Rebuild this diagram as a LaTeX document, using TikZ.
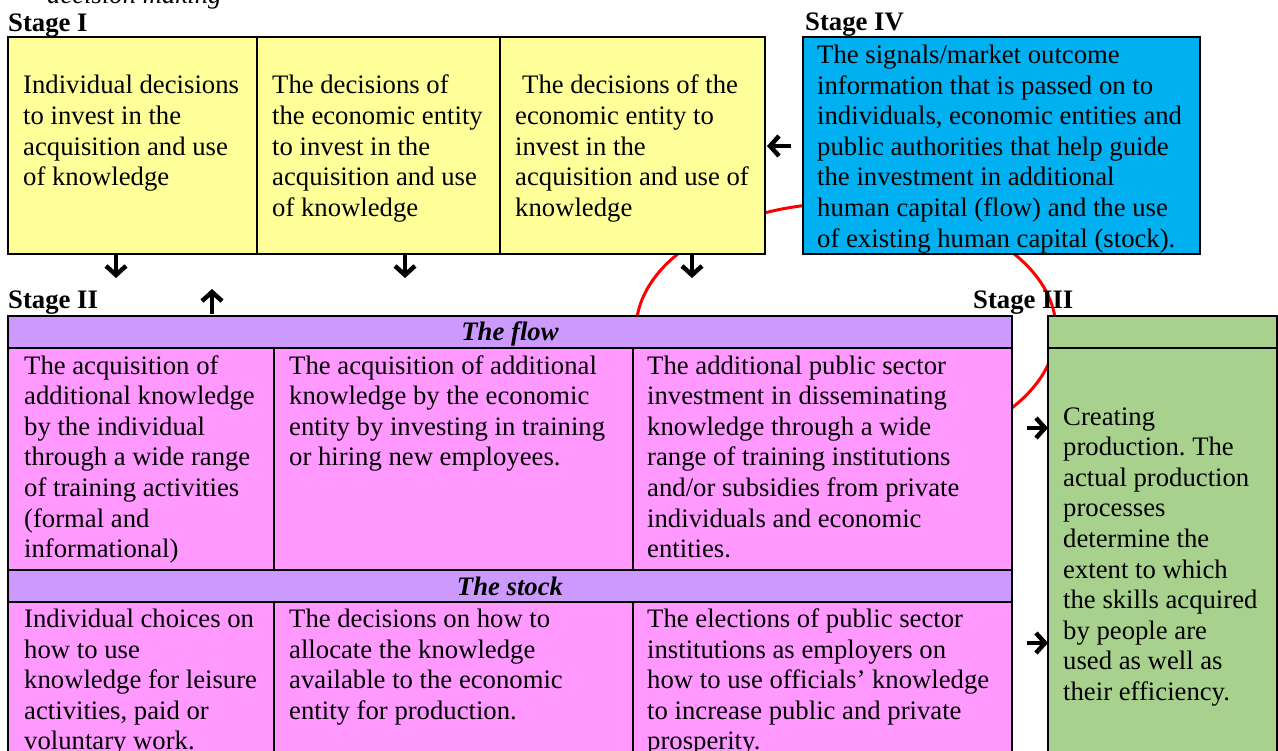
\documentclass[tikz,border=0pt]{standalone}
\usepackage{fontspec}
\setmainfont{Liberation Serif}
\usetikzlibrary{arrows.meta}
\definecolor{cyellow}{HTML}{FFFF99}
\definecolor{cblue}{HTML}{00B0F0}
\definecolor{cpurple}{HTML}{CC99FF}
\definecolor{cpink}{HTML}{FF99FF}
\definecolor{cgreen}{HTML}{A9D18E}
\newcommand{\cellfont}{\fontsize{26.7pt}{30.6pt}\selectfont\frenchspacing}
\begin{document}
\begin{tikzpicture}[x=1pt,y=-1pt,
  cellbox/.style={draw=black, line width=2pt, anchor=north west, inner sep=0pt, outer sep=0pt},
  celltext/.style={anchor=base west, inner sep=0pt, align=left, font=\cellfont},
  stagelabel/.style={anchor=base west, inner sep=0pt, font=\cellfont\bfseries},
  headtext/.style={anchor=base, inner sep=0pt, font=\cellfont\bfseries\itshape},
  arr/.style={line width=4.5pt, -{Straight Barb[length=9pt,width=20pt]}},
  loop/.style={draw=red, line width=3pt}]
\clip (0,0) rectangle (1278,751);
\fill[white] (0,0) rectangle (1278,751);
% red cycle (behind the boxes)
\draw[loop] (846,330) ellipse [x radius=210pt, y radius=127pt];
% caption fragment
\node[anchor=base west, inner sep=0pt, font=\cellfont\itshape] (cap) at (47,4) {decision making};
% Stage I
\node[stagelabel] (lab1) at (8,32) {Stage I};
\node[cellbox, fill=cyellow, minimum width=249pt, minimum height=217pt] (s1a) at (8,37) {};
\node[cellbox, fill=cyellow, minimum width=243pt, minimum height=217pt] (s1b) at (257,37) {};
\node[cellbox, fill=cyellow, minimum width=265pt, minimum height=217pt] (s1c) at (500,37) {};
\node[celltext] (t1a) at (23,185.8) {Individual decisions\\to invest in the\\acquisition and use\\of knowledge};
\node[celltext] (t1b) at (272,216.4) {The decisions of\\the economic entity\\to invest in the\\acquisition and use\\of knowledge};
\node[celltext] (t1c) at (515,216.4) {\hspace*{7pt}The decisions of the\\economic entity to\\invest in the\\acquisition and use of\\knowledge};
% Stage IV
\node[stagelabel] (lab4) at (805,31) {Stage IV};
\node[cellbox, fill=cblue, minimum width=397pt, minimum height=217pt] (s4) at (803,37) {};
\node[celltext] (t4) at (817,247.1) {The signals/market outcome\\information that is passed on to\\individuals, economic entities and\\public authorities that help guide\\the investment in additional\\human capital (flow) and the use\\of existing human capital (stock).};
% Stage II
\node[stagelabel] (lab2) at (8,309) {Stage II};
\node[cellbox, fill=cpurple, minimum width=1004pt, minimum height=32pt] (fh) at (8,316) {};
\node[headtext] (fht) at (510,341) {The flow};
\node[cellbox, fill=cpink, minimum width=266pt, minimum height=222pt] (f1) at (8,348) {};
\node[cellbox, fill=cpink, minimum width=359pt, minimum height=222pt] (f2) at (274,348) {};
\node[cellbox, fill=cpink, minimum width=379pt, minimum height=222pt] (f3) at (633,348) {};
\node[cellbox, fill=cpurple, minimum width=1004pt, minimum height=32pt] (sh) at (8,570) {};
\node[headtext] (sht) at (510,595) {The stock};
\node[cellbox, fill=cpink, minimum width=266pt, minimum height=200pt] (k1) at (8,602) {};
\node[cellbox, fill=cpink, minimum width=359pt, minimum height=200pt] (k2) at (274,602) {};
\node[cellbox, fill=cpink, minimum width=379pt, minimum height=200pt] (k3) at (633,602) {};
\node[celltext] (tf1) at (24,557.6) {The acquisition of\\additional knowledge\\by the individual\\through a wide range\\of training activities\\(formal and\\informational)};
\node[celltext] (tf2) at (289,465.8) {The acquisition of additional\\knowledge by the economic\\entity by investing in training\\or hiring new employees.};
\node[celltext] (tf3) at (647,557.6) {The additional public sector\\investment in disseminating\\knowledge through a wide\\range of training institutions\\and/or subsidies from private\\individuals and economic\\entities.};
\node[celltext] (tk1) at (24,749.9) {Individual choices on\\how to use\\knowledge for leisure\\activities, paid or\\voluntary work.};
\node[celltext] (tk2) at (289,719.3) {The decisions on how to\\allocate the knowledge\\available to the economic\\entity for production.};
\node[celltext] (tk3) at (647,749.9) {The elections of public sector\\institutions as employers on\\how to use officials’ knowledge\\to increase public and private\\prosperity.};
% Stage III
\node[stagelabel] (lab3) at (973,309) {Stage III};
\node[cellbox, fill=cgreen, minimum width=229pt, minimum height=32pt] (gh) at (1048,316) {};
\node[cellbox, fill=cgreen, minimum width=229pt, minimum height=450pt] (g) at (1048,348) {};
\node[celltext] (tg) at (1063,700.4) {Creating\\production. The\\actual production\\processes\\determine the\\extent to which\\the skills acquired\\by people are\\used as well as\\their efficiency.};
% arrows
\coordinate (d1s) at (116,255); \coordinate (d1e) at (116,278);
\coordinate (d2s) at (405,255); \coordinate (d2e) at (405,278);
\coordinate (d3s) at (692,255); \coordinate (d3e) at (692,278);
\coordinate (u1s) at (212,314); \coordinate (u1e) at (212,289);
\coordinate (l1s) at (791,146); \coordinate (l1e) at (767,146);
\coordinate (r1s) at (1027,428); \coordinate (r1e) at (1048,428);
\coordinate (r2s) at (1027,643); \coordinate (r2e) at (1048,643);
\draw[arr] (d1s) -- (d1e);
\draw[arr] (d2s) -- (d2e);
\draw[arr] (d3s) -- (d3e);
\draw[arr] (u1s) -- (u1e);
\draw[arr] (l1s) -- (l1e);
\draw[arr] (r1s) -- (r1e);
\draw[arr] (r2s) -- (r2e);
\end{tikzpicture}
\end{document}
